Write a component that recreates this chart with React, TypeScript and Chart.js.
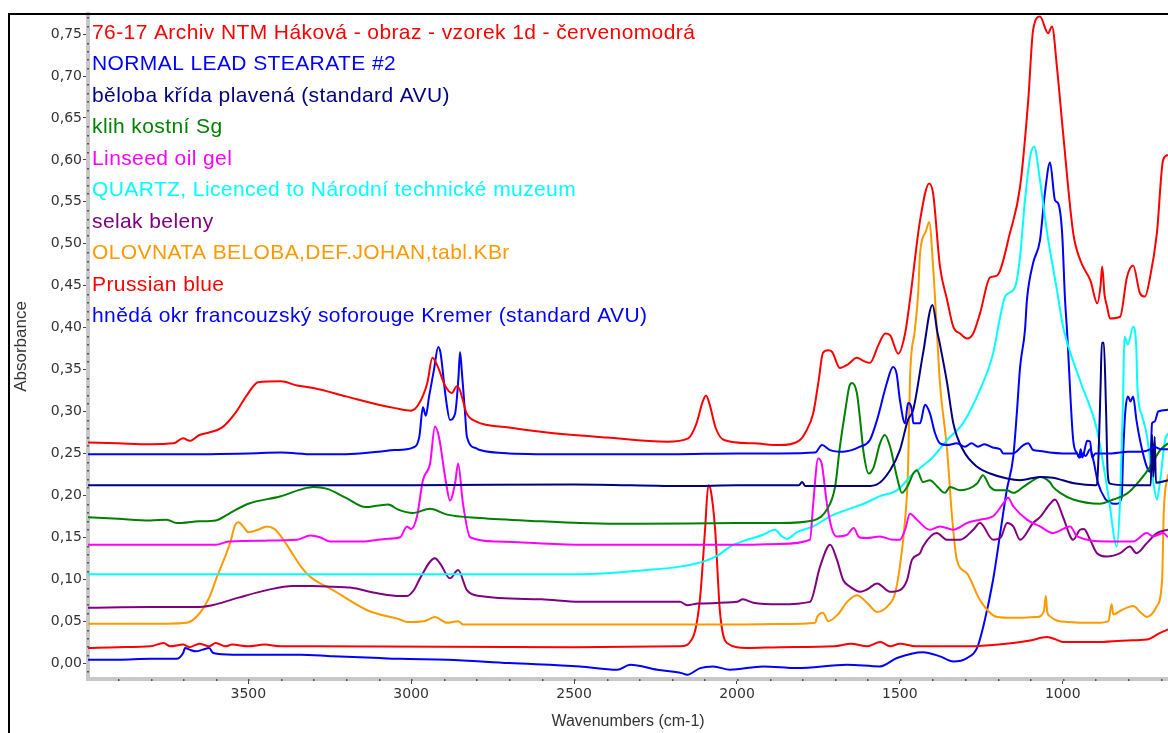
import React, { useEffect, useRef } from 'react';
import { Chart, registerables } from 'chart.js';

Chart.register(...registerables);

type P = [number, number];

// 76-17 Archiv NTM Háková - obraz - vzorek 1d - červenomodrá
const sArchiv: P[] = [
  [3992, 0.263], [3900, 0.262], [3800, 0.261], [3730, 0.262], [3700, 0.268], [3680, 0.265],
  [3650, 0.272], [3620, 0.275], [3580, 0.281], [3540, 0.298], [3500, 0.322], [3470, 0.335],
  [3400, 0.336], [3350, 0.331], [3300, 0.328], [3200, 0.318], [3100, 0.308], [3050, 0.304],
  [3000, 0.301], [2975, 0.31], [2950, 0.335], [2935, 0.364], [2920, 0.355], [2895, 0.33],
  [2875, 0.322], [2860, 0.33], [2850, 0.325], [2830, 0.298], [2800, 0.288], [2700, 0.281],
  [2583, 0.275], [2400, 0.269], [2215, 0.264], [2150, 0.268], [2125, 0.285], [2105, 0.312],
  [2095, 0.319], [2085, 0.31], [2065, 0.28], [2040, 0.266], [1950, 0.262], [1868, 0.26],
  [1810, 0.265], [1790, 0.275], [1766, 0.298], [1750, 0.335], [1736, 0.37], [1720, 0.373],
  [1708, 0.371], [1684, 0.352], [1660, 0.356], [1632, 0.364], [1610, 0.36], [1592, 0.358],
  [1565, 0.38], [1545, 0.393], [1530, 0.391], [1505, 0.369], [1484, 0.393], [1469, 0.433],
  [1438, 0.528], [1410, 0.572], [1398, 0.56], [1377, 0.473], [1355, 0.433], [1336, 0.401],
  [1315, 0.393], [1294, 0.387], [1275, 0.393], [1254, 0.417], [1223, 0.46], [1202, 0.462],
  [1162, 0.513], [1131, 0.568], [1106, 0.671], [1091, 0.755], [1070, 0.771], [1045, 0.751],
  [1033, 0.759], [1018, 0.711], [999, 0.632], [968, 0.513], [946, 0.48], [915, 0.456],
  [894, 0.429], [884, 0.45], [879, 0.473], [872, 0.44], [864, 0.425], [855, 0.411],
  [824, 0.413], [803, 0.46], [784, 0.474], [763, 0.441], [748, 0.437], [732, 0.46],
  [711, 0.513], [692, 0.6], [677, 0.606],
];

// NORMAL LEAD STEARATE #2
const sStearate: P[] = [
  [3992, 0.249], [3700, 0.249], [3500, 0.25], [3400, 0.251], [3300, 0.249], [3200, 0.249],
  [3100, 0.252], [3050, 0.254], [2995, 0.257], [2975, 0.27], [2964, 0.305], [2955, 0.295],
  [2945, 0.318], [2930, 0.35], [2917, 0.377], [2910, 0.37], [2895, 0.32], [2881, 0.29],
  [2865, 0.298], [2855, 0.34], [2850, 0.371], [2845, 0.35], [2835, 0.3], [2829, 0.27],
  [2800, 0.256], [2789, 0.254], [2700, 0.25], [2500, 0.249], [2200, 0.249], [2000, 0.25],
  [1868, 0.25], [1760, 0.251], [1739, 0.26], [1714, 0.254], [1674, 0.252], [1622, 0.258],
  [1592, 0.266], [1570, 0.29], [1540, 0.334], [1521, 0.353], [1510, 0.345], [1500, 0.314],
  [1484, 0.286], [1475, 0.31], [1463, 0.302], [1459, 0.286], [1438, 0.286], [1423, 0.308],
  [1408, 0.298], [1392, 0.274], [1377, 0.262], [1355, 0.26], [1325, 0.262], [1300, 0.258],
  [1280, 0.262], [1260, 0.258], [1240, 0.261], [1215, 0.257], [1192, 0.255], [1183, 0.25],
  [1152, 0.25], [1121, 0.26], [1106, 0.262], [1091, 0.254], [1070, 0.253], [1040, 0.251],
  [1000, 0.25], [970, 0.25], [956, 0.25], [950, 0.245], [945, 0.255], [940, 0.245],
  [925, 0.265], [916, 0.264], [910, 0.245], [900, 0.25], [850, 0.25], [800, 0.252],
  [760, 0.252], [730, 0.255], [720, 0.258], [700, 0.255], [677, 0.255],
];

// běloba křída plavená (standard AVU)
const sChalk: P[] = [
  [3992, 0.212], [3000, 0.212], [2500, 0.213], [2150, 0.211], [2000, 0.212], [1810, 0.212],
  [1800, 0.216], [1790, 0.211], [1600, 0.211], [1570, 0.213], [1530, 0.23], [1500, 0.254],
  [1475, 0.29], [1459, 0.302], [1429, 0.369], [1400, 0.427], [1385, 0.395], [1377, 0.38],
  [1355, 0.334], [1336, 0.286], [1306, 0.254], [1263, 0.234], [1223, 0.226], [1171, 0.22],
  [1131, 0.218], [1070, 0.222], [1030, 0.221], [1000, 0.218], [960, 0.214], [900, 0.212],
  [895, 0.213], [890, 0.25], [884, 0.33], [880, 0.382], [874, 0.382], [867, 0.3],
  [862, 0.226], [855, 0.214], [800, 0.212], [730, 0.212], [726, 0.272], [722, 0.222],
  [718, 0.27], [714, 0.215], [677, 0.218],
];

// klih kostní Sg
const sGlue: P[] = [
  [3992, 0.174], [3900, 0.172], [3800, 0.17], [3750, 0.171], [3720, 0.167], [3650, 0.169],
  [3600, 0.17], [3560, 0.178], [3500, 0.19], [3400, 0.199], [3330, 0.208], [3300, 0.21],
  [3260, 0.208], [3200, 0.197], [3140, 0.186], [3100, 0.188], [3070, 0.189], [3040, 0.183],
  [2995, 0.179], [2942, 0.184], [2890, 0.177], [2789, 0.173], [2600, 0.169], [2482, 0.167],
  [2300, 0.166], [2000, 0.167], [1868, 0.167], [1766, 0.17], [1724, 0.183], [1699, 0.21],
  [1684, 0.258], [1668, 0.3], [1655, 0.33], [1647, 0.334], [1632, 0.322], [1622, 0.29],
  [1611, 0.25], [1596, 0.226], [1580, 0.234], [1561, 0.262], [1546, 0.272], [1530, 0.258],
  [1509, 0.222], [1494, 0.203], [1475, 0.212], [1459, 0.226], [1448, 0.23], [1429, 0.216],
  [1408, 0.218], [1384, 0.21], [1362, 0.203], [1346, 0.21], [1315, 0.206], [1263, 0.214],
  [1245, 0.224], [1223, 0.21], [1202, 0.206], [1171, 0.206], [1152, 0.203], [1121, 0.21],
  [1091, 0.218], [1070, 0.222], [1040, 0.216], [1030, 0.21], [1008, 0.203], [968, 0.195],
  [886, 0.19], [845, 0.195], [803, 0.202], [763, 0.218], [732, 0.234], [701, 0.254],
  [677, 0.262],
];

// Linseed oil gel
const sLinseed: P[] = [
  [3992, 0.141], [3700, 0.141], [3600, 0.141], [3560, 0.145], [3450, 0.146], [3350, 0.147],
  [3310, 0.152], [3280, 0.15], [3250, 0.145], [3150, 0.145], [3080, 0.148], [3034, 0.15],
  [3013, 0.163], [3000, 0.16], [2982, 0.175], [2964, 0.218], [2942, 0.238], [2927, 0.282],
  [2915, 0.27], [2895, 0.22], [2881, 0.194], [2865, 0.215], [2856, 0.238], [2841, 0.19],
  [2819, 0.15], [2737, 0.145], [2482, 0.141], [2000, 0.141], [1868, 0.142], [1776, 0.147],
  [1766, 0.19], [1751, 0.244], [1740, 0.238], [1724, 0.19], [1708, 0.159], [1693, 0.151],
  [1662, 0.153], [1642, 0.161], [1625, 0.15], [1601, 0.149], [1561, 0.151], [1521, 0.147],
  [1500, 0.147], [1484, 0.159], [1469, 0.178], [1448, 0.171], [1408, 0.159], [1377, 0.163],
  [1336, 0.159], [1294, 0.167], [1254, 0.171], [1214, 0.175], [1183, 0.19], [1168, 0.197],
  [1152, 0.187], [1110, 0.171], [1070, 0.163], [1030, 0.155], [977, 0.163], [956, 0.151],
  [864, 0.145], [784, 0.145], [742, 0.155], [723, 0.151], [692, 0.155], [677, 0.15],
];

// QUARTZ, Licenced to Národní technické muzeum
const sQuartz: P[] = [
  [3992, 0.106], [3000, 0.106], [2482, 0.106], [2276, 0.111], [2175, 0.115], [2104, 0.121],
  [2060, 0.128], [2021, 0.139], [1969, 0.147], [1920, 0.153], [1895, 0.158], [1883, 0.159],
  [1865, 0.152], [1846, 0.148], [1830, 0.152], [1816, 0.156], [1766, 0.163], [1714, 0.175],
  [1662, 0.183], [1611, 0.19], [1561, 0.199], [1509, 0.206], [1459, 0.226], [1400, 0.245],
  [1355, 0.266], [1306, 0.286], [1254, 0.326], [1214, 0.369], [1192, 0.413], [1177, 0.437],
  [1146, 0.449], [1131, 0.485], [1116, 0.552], [1100, 0.604], [1088, 0.616], [1070, 0.576],
  [1048, 0.513], [1018, 0.445], [999, 0.401], [947, 0.337], [895, 0.278], [860, 0.2],
  [834, 0.139], [824, 0.195], [815, 0.313], [811, 0.389], [800, 0.38], [784, 0.401],
  [774, 0.373], [771, 0.33], [756, 0.294], [743, 0.274], [723, 0.218], [711, 0.195],
  [701, 0.218], [686, 0.266], [677, 0.274],
];

// selak beleny
const sShellac: P[] = [
  [3992, 0.066], [3800, 0.067], [3648, 0.067], [3600, 0.07], [3530, 0.078], [3443, 0.087],
  [3363, 0.092], [3300, 0.092], [3240, 0.091], [3188, 0.09], [3100, 0.083], [3034, 0.08],
  [3013, 0.08], [2990, 0.088], [2973, 0.101], [2927, 0.125], [2910, 0.118], [2881, 0.101],
  [2856, 0.111], [2829, 0.087], [2789, 0.08], [2600, 0.076], [2482, 0.073], [2175, 0.073],
  [2153, 0.069], [2120, 0.071], [2000, 0.073], [1982, 0.076], [1950, 0.072], [1868, 0.07],
  [1776, 0.073], [1745, 0.115], [1714, 0.141], [1693, 0.123], [1674, 0.099], [1653, 0.091],
  [1622, 0.085], [1600, 0.088], [1570, 0.095], [1530, 0.085], [1500, 0.087], [1478, 0.099],
  [1463, 0.123], [1438, 0.131], [1429, 0.139], [1387, 0.155], [1355, 0.147], [1315, 0.147],
  [1275, 0.159], [1254, 0.167], [1214, 0.147], [1190, 0.15], [1171, 0.167], [1152, 0.163],
  [1131, 0.147], [1091, 0.167], [1070, 0.174], [1039, 0.19], [1024, 0.195], [999, 0.174],
  [977, 0.151], [968, 0.147], [947, 0.159], [935, 0.16], [916, 0.147], [895, 0.131],
  [864, 0.127], [824, 0.131], [794, 0.139], [774, 0.131], [742, 0.143], [711, 0.155],
  [677, 0.159],
];

// OLOVNATA BELOBA, DEF.JOHAN, tabl.KBr
const sLeadWhite: P[] = [
  [3992, 0.047], [3750, 0.047], [3688, 0.048], [3648, 0.06], [3620, 0.078], [3596, 0.103],
  [3570, 0.128], [3556, 0.143], [3540, 0.165], [3530, 0.168], [3514, 0.162], [3500, 0.156],
  [3470, 0.159], [3443, 0.163], [3420, 0.16], [3403, 0.153], [3372, 0.135], [3340, 0.116],
  [3310, 0.103], [3240, 0.087], [3135, 0.063], [3096, 0.058], [3034, 0.052], [3013, 0.049],
  [2960, 0.05], [2927, 0.055], [2890, 0.048], [2856, 0.05], [2841, 0.046], [2000, 0.046],
  [1800, 0.047], [1760, 0.048], [1754, 0.055], [1736, 0.06], [1720, 0.05], [1690, 0.058],
  [1662, 0.073], [1632, 0.081], [1601, 0.072], [1570, 0.061], [1540, 0.067], [1515, 0.083],
  [1500, 0.115], [1484, 0.171], [1475, 0.23], [1469, 0.338], [1454, 0.397], [1444, 0.44],
  [1438, 0.489], [1420, 0.515], [1410, 0.526], [1398, 0.473], [1387, 0.4], [1377, 0.334],
  [1355, 0.254], [1340, 0.175], [1325, 0.123], [1294, 0.107], [1254, 0.075], [1202, 0.055],
  [1152, 0.054], [1080, 0.055], [1058, 0.062], [1052, 0.08], [1048, 0.062], [1040, 0.056],
  [987, 0.049], [895, 0.048], [860, 0.05], [850, 0.07], [845, 0.058], [820, 0.063],
  [784, 0.068], [760, 0.06], [742, 0.055], [711, 0.068], [695, 0.1], [690, 0.18],
  [677, 0.225],
];

// Prussian blue
const sPrussian: P[] = [
  [3992, 0.018], [3900, 0.019], [3800, 0.02], [3760, 0.024], [3740, 0.02], [3700, 0.022],
  [3680, 0.019], [3650, 0.023], [3620, 0.02], [3600, 0.024], [3570, 0.02], [3550, 0.022],
  [3500, 0.02], [3450, 0.022], [3400, 0.02], [3300, 0.02], [2500, 0.019], [2175, 0.02],
  [2135, 0.031], [2113, 0.079], [2098, 0.159], [2088, 0.212], [2080, 0.205], [2067, 0.159],
  [2052, 0.06], [2031, 0.024], [1969, 0.018], [1868, 0.019], [1700, 0.02], [1650, 0.023],
  [1600, 0.02], [1560, 0.025], [1530, 0.02], [1500, 0.023], [1450, 0.02], [1300, 0.02],
  [1152, 0.024], [1100, 0.027], [1048, 0.031], [1020, 0.028], [999, 0.025], [900, 0.025],
  [800, 0.027], [742, 0.028], [701, 0.036], [677, 0.04],
];

// hnědá okr francouzský soforouge Kremer (standard AVU)
const sOchre: P[] = [
  [3992, 0.004], [3900, 0.004], [3800, 0.005], [3720, 0.005], [3700, 0.012], [3694, 0.018],
  [3680, 0.016], [3660, 0.014], [3640, 0.016], [3620, 0.018], [3608, 0.012], [3547, 0.01],
  [3341, 0.01], [3240, 0.008], [3096, 0.006], [3034, 0.005], [2890, 0.004], [2700, 0.0],
  [2482, -0.004], [2368, -0.008], [2328, -0.002], [2245, -0.008], [2170, -0.012],
  [2153, -0.014], [2113, -0.006], [2073, -0.004], [2021, -0.008], [1920, -0.004],
  [1816, -0.006], [1662, -0.002], [1561, -0.004], [1509, 0.006], [1429, 0.013], [1377, 0.008],
  [1336, 0.002], [1294, 0.006], [1263, 0.018], [1240, 0.05], [1214, 0.099], [1190, 0.16],
  [1172, 0.206], [1152, 0.246], [1141, 0.298], [1131, 0.353], [1116, 0.397], [1110, 0.433],
  [1091, 0.477], [1070, 0.504], [1055, 0.56], [1039, 0.597], [1024, 0.552], [1014, 0.548],
  [1002, 0.513], [993, 0.433], [987, 0.397], [968, 0.266], [956, 0.25], [948, 0.245],
  [940, 0.25], [930, 0.247], [916, 0.255], [905, 0.24], [892, 0.215], [870, 0.196],
  [861, 0.193], [845, 0.19], [834, 0.19], [819, 0.198], [815, 0.246], [808, 0.3],
  [800, 0.318], [792, 0.312], [784, 0.318], [774, 0.29], [763, 0.266], [742, 0.234],
  [732, 0.228], [726, 0.286], [718, 0.288], [707, 0.3], [677, 0.302],
];

const seriesData: P[][] = [
  sArchiv, sStearate, sChalk, sGlue, sLinseed, sQuartz, sShellac, sLeadWhite, sPrussian, sOchre,
];

const seriesLabels: string[] = [
  '76-17 Archiv NTM Háková - obraz - vzorek 1d - červenomodrá',
  'NORMAL LEAD STEARATE #2',
  'běloba křída plavená (standard AVU)',
  'klih kostní Sg',
  'Linseed oil gel',
  'QUARTZ, Licenced to Národní technické muzeum',
  'selak beleny',
  'OLOVNATA BELOBA,DEF.JOHAN,tabl.KBr',
  'Prussian blue',
  'hnědá okr francouzský soforouge Kremer (standard AVU)',
];

const seriesColors: string[] = [
  '#ff0000', '#0000ff', '#000080', '#008000', '#ff00ff',
  '#00ffff', '#800080', '#ff9900', '#ff0000', '#0000ff',
];

const xTickValues: number[] = [1000, 1500, 2000, 2500, 3000, 3500];
const yTickValues: number[] = [
  0, 0.05, 0.1, 0.15, 0.2, 0.25, 0.3, 0.35, 0.4, 0.45, 0.5, 0.55, 0.6, 0.65, 0.7, 0.75,
];

const X_MIN = 677;
const X_MAX = 3992;
const Y_MIN = -0.019;
const Y_MAX = 0.774;

const extrasPlugin = {
  id: 'extras',
  afterDraw(chart: any) {
    const ctx = chart.ctx as CanvasRenderingContext2D;
    const { left, bottom } = chart.chartArea;
    const xs = chart.scales.x;
    const ys = chart.scales.y;
    ctx.save();
    // minor ticks drawn as dots on the axis bands
    ctx.fillStyle = '#555';
    for (let k = -1; k <= 77; k++) {
      if (k % 5 === 0) continue;
      const v = k / 100;
      if (v < Y_MIN || v > Y_MAX) continue;
      const py = Math.round(ys.getPixelForValue(v));
      ctx.fillRect(left - 1, py, 2, 1.5);
    }
    for (let w = 700; w <= 3900; w += 100) {
      const px = Math.round(xs.getPixelForValue(w));
      ctx.fillRect(px, bottom, 1.5, 2);
    }
    // outer frame
    ctx.strokeStyle = '#000';
    ctx.lineWidth = 2;
    ctx.beginPath();
    ctx.moveTo(9, chart.height);
    ctx.lineTo(9, 14);
    ctx.lineTo(chart.width, 14);
    ctx.stroke();
    // legend text
    ctx.font = '21px "Liberation Sans", Arial, sans-serif';
    (ctx as any).letterSpacing = '0.4px';
    ctx.textBaseline = 'middle';
    ctx.textAlign = 'left';
    seriesLabels.forEach((label, i) => {
      ctx.fillStyle = seriesColors[i];
      ctx.fillText(label, 92, 33 + i * 31.5);
    });
    ctx.restore();
  },
};

export default function App() {
  const canvasRef = useRef<HTMLCanvasElement | null>(null);

  useEffect(() => {
    const canvas = canvasRef.current;
    if (!canvas) return;
    const chart = new Chart(canvas, {
      type: 'line',
      data: {
        datasets: seriesData.map((pts, i) => ({
          label: seriesLabels[i],
          data: pts.map(([x, y]) => ({ x, y })),
          borderColor: seriesColors[i],
          backgroundColor: seriesColors[i],
          borderWidth: 2,
          pointRadius: 0,
          fill: false,
          cubicInterpolationMode: 'monotone' as const,
        })),
      },
      options: {
        animation: false,
        responsive: false,
        devicePixelRatio: 1,
        events: [],
        layout: { padding: { left: 8, top: 14, right: 0, bottom: 0 } },
        plugins: {
          legend: { display: false },
          tooltip: { enabled: false },
        },
        scales: {
          x: {
            type: 'linear',
            reverse: true,
            min: X_MIN,
            max: X_MAX,
            afterBuildTicks: (s: any) => { s.ticks = xTickValues.map((value) => ({ value })); },
            afterFit: (s: any) => { s.height = 54; },
            ticks: {
              maxRotation: 0,
              autoSkip: false,
              padding: 2,
              color: '#333',
              font: { family: '"DejaVu Sans", Verdana, sans-serif', size: 14 },
              callback: (v: any) => String(v),
            },
            grid: { drawOnChartArea: false, drawTicks: true, tickLength: 5, color: '#444' },
            border: { color: '#c8c8c8', width: 4 },
            title: {
              display: true,
              text: 'Wavenumbers (cm-1)',
              color: '#333',
              font: { family: '"Liberation Sans", Arial, sans-serif', size: 16 },
              padding: { top: 0, bottom: 1.5 },
            },
          },
          y: {
            type: 'linear',
            min: Y_MIN,
            max: Y_MAX,
            afterBuildTicks: (s: any) => { s.ticks = yTickValues.map((value) => ({ value })); },
            afterFit: (s: any) => { s.width = 80; },
            ticks: {
              autoSkip: false,
              padding: 1,
              color: '#333',
              font: { family: '"DejaVu Sans", Verdana, sans-serif', size: 14 },
              callback: (v: any) => Number(v).toFixed(2).replace('.', ','),
            },
            grid: { drawOnChartArea: false, drawTicks: true, tickLength: 5, color: '#444' },
            border: { color: '#c8c8c8', width: 4 },
            title: {
              display: true,
              text: 'Absorbance',
              color: '#333',
              font: { family: '"Liberation Sans", Arial, sans-serif', size: 17 },
              padding: { top: 3, bottom: 0 },
            },
          },
        },
      },
      plugins: [extrasPlugin],
    } as any);
    return () => chart.destroy();
  }, []);

  return (
    <div style={{ position: 'fixed', left: 0, top: 0, width: '1168px', height: '733px', background: '#fff' }}>
      <canvas ref={canvasRef} width={1168} height={733} style={{ display: 'block', width: '1168px', height: '733px' }} />
    </div>
  );
}
